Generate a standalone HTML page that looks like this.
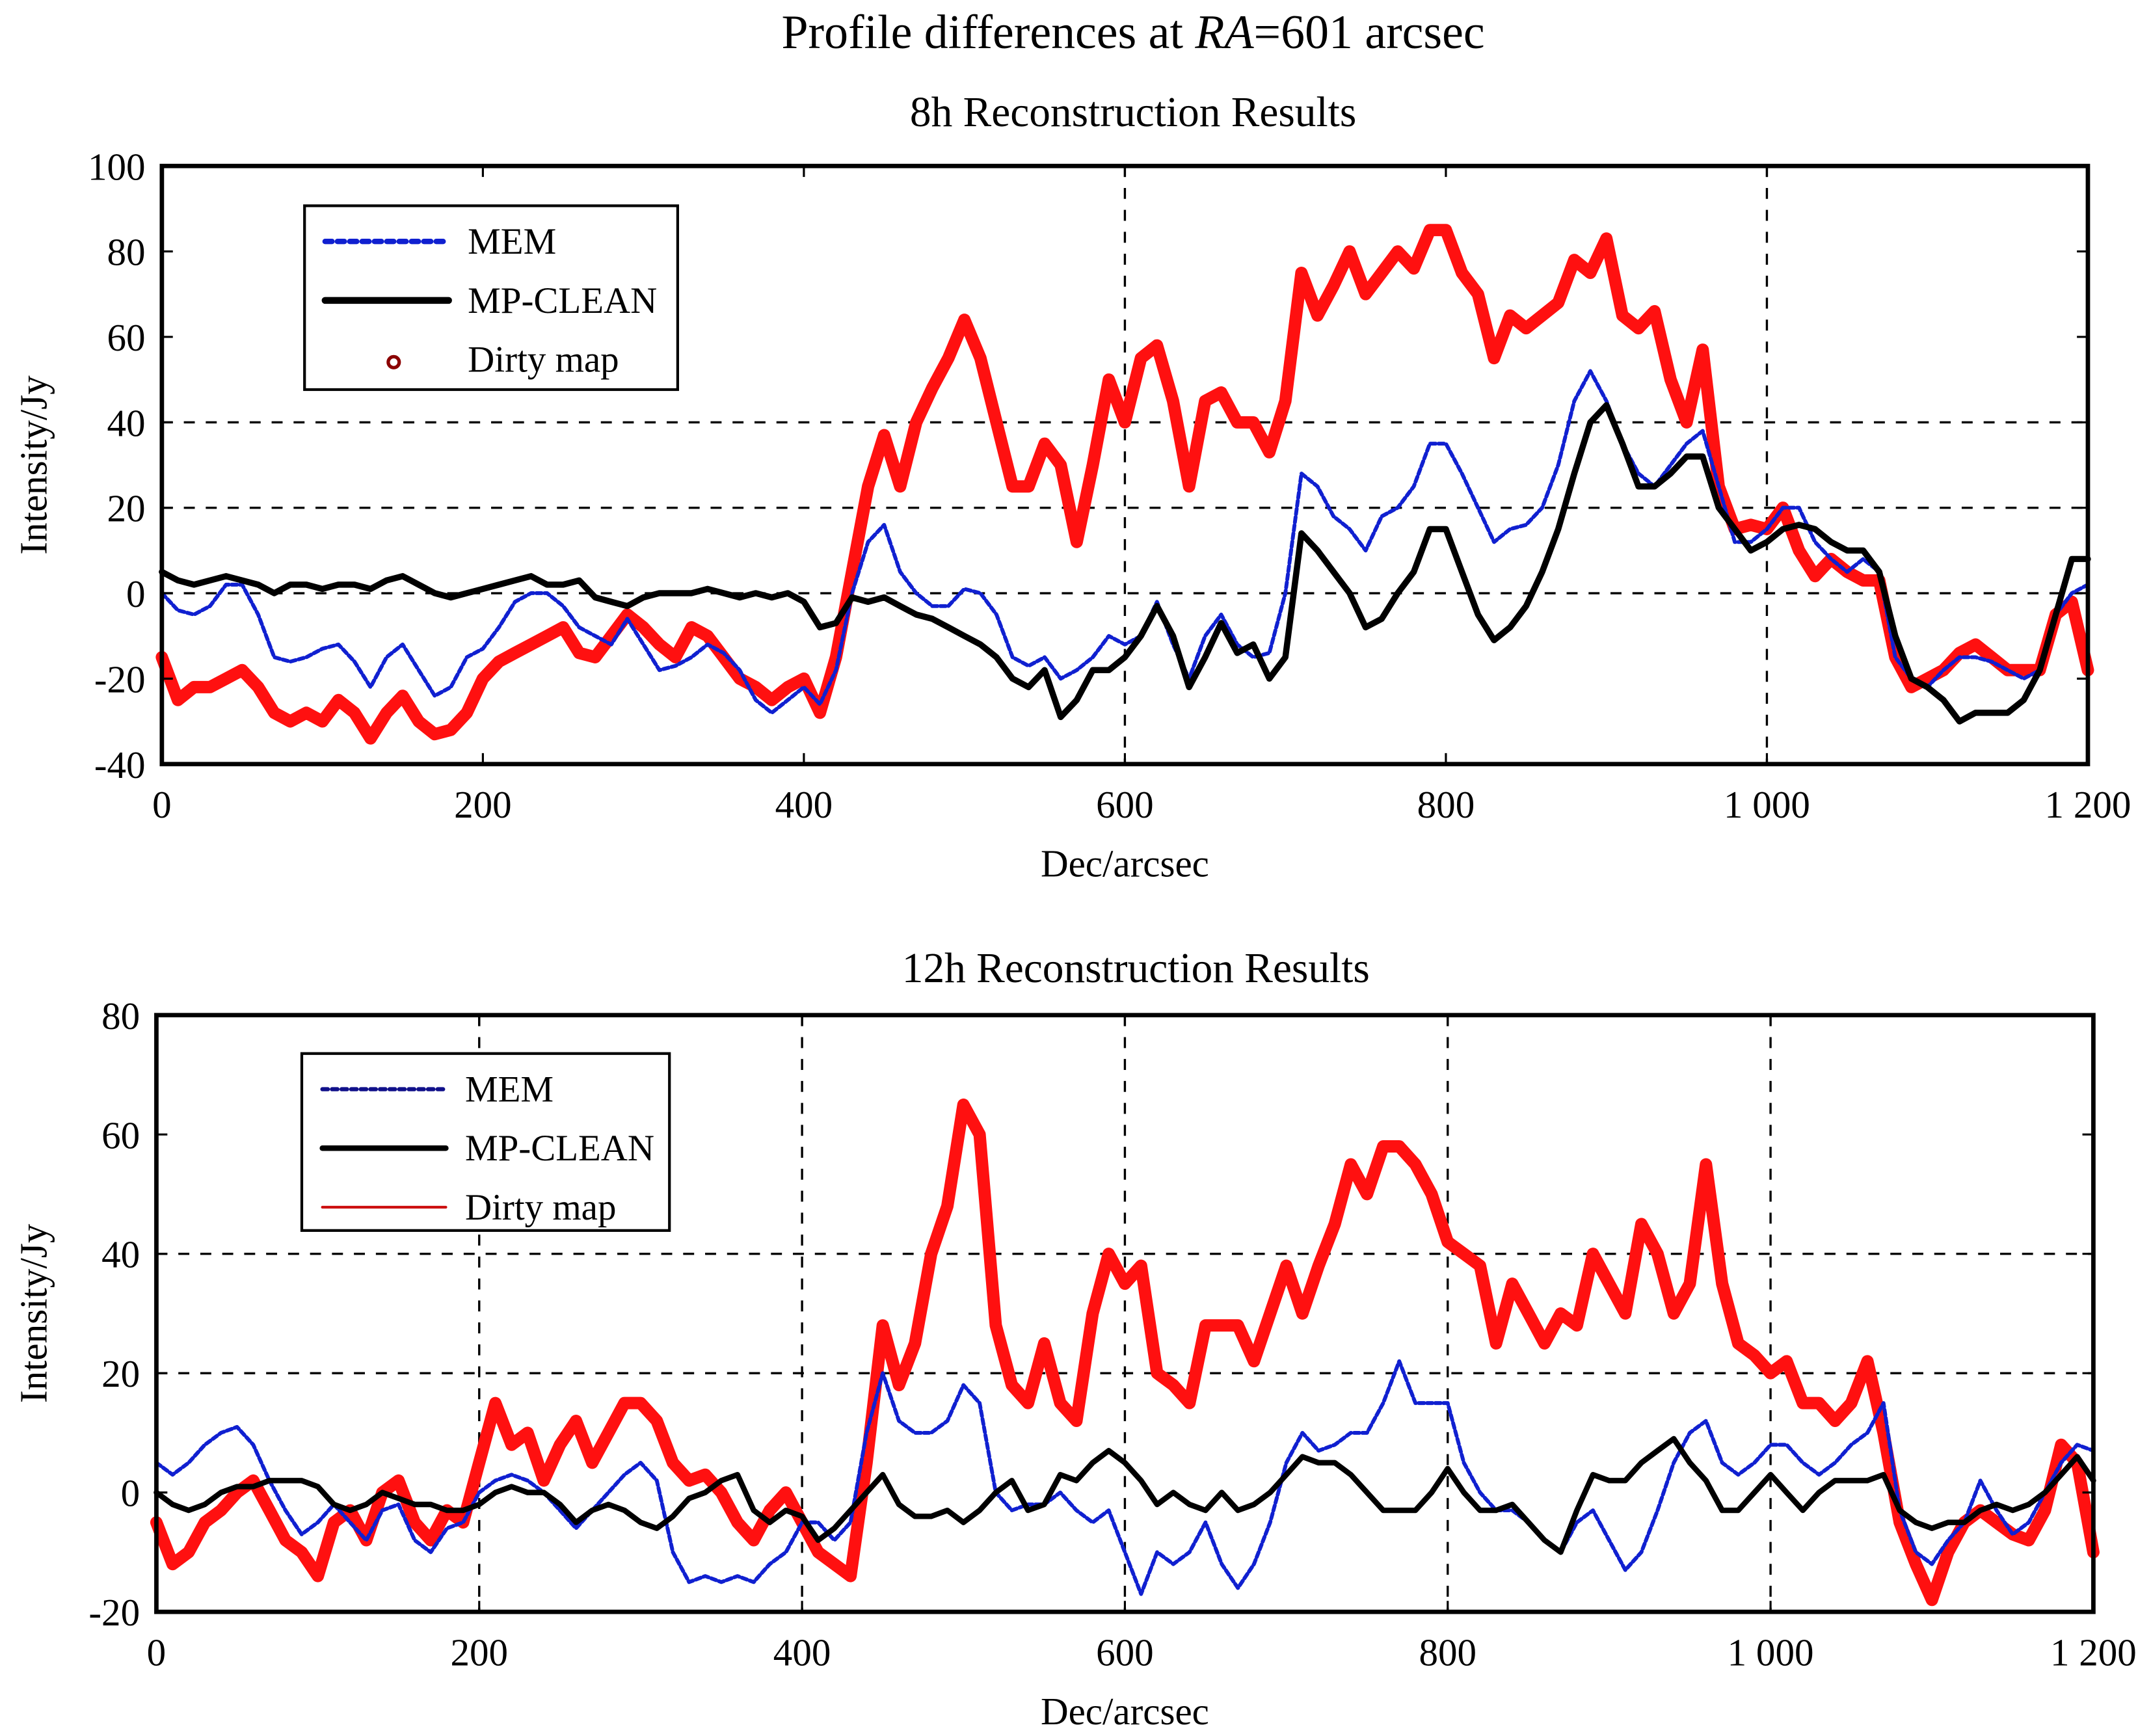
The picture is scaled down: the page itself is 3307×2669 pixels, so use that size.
<!DOCTYPE html>
<html><head><meta charset="utf-8"><style>
html,body{margin:0;padding:0;background:#fff}
svg{display:block}
text{font-family:"Liberation Serif",serif;fill:#000}
</style></head><body>
<svg id="fig" width="3307" height="2669" viewBox="0 0 1568 1265.5" xmlns="http://www.w3.org/2000/svg">
<text x="826" y="35" font-size="35" text-anchor="middle">Profile differences at <tspan font-style="italic">RA</tspan>=601 arcsec</text>
<text x="826" y="92" font-size="31" text-anchor="middle">8h Reconstruction Results</text>
<text x="828" y="716" font-size="31" text-anchor="middle">12h Reconstruction Results</text>
<g id="top"></g>
<g id="bot"></g>
</svg>
<script>
const decs = []; for (let d = 0; d <= 1200; d += 10) decs.push(d);
const xTicks = [0,200,400,600,800,1000,1200];
const xTickLabels = ["0","200","400","600","800","1 000","1 200"];
const topYTicks = [-40,-20,0,20,40,60,80,100];
const botYTicks = [-20,0,20,40,60,80];
const topDirty = [-15,-25,-22,-22,-20,-18,-22,-28,-30,-28,-30,-25,-28,-34,-28,-24,-30,-33,-32,-28,-20,-16,-14,-12,-10,-8,-14,-15,-10,-5,-8,-12,-15,-8,-10,-15,-20,-22,-25,-22,-20,-28,-15,5,25,37,25,40,48,55,64,55,40,25,25,35,30,12,30,50,40,55,58,45,25,45,47,40,40,33,45,75,65,72,80,70,75,80,76,85,85,75,70,55,65,62,65,68,78,75,83,65,62,66,50,40,57,25,15,16,15,20,10,4,8,5,3,3,-15,-22,-20,-18,-14,-12,-15,-18,-18,-18,-5,-2,-18];
const topMEM = [0,-4,-5,-3,2,2,-5,-15,-16,-15,-13,-12,-16,-22,-15,-12,-18,-24,-22,-15,-13,-8,-2,0,0,-3,-8,-10,-12,-6,-12,-18,-17,-15,-12,-14,-18,-25,-28,-25,-22,-26,-18,0,12,16,5,0,-3,-3,1,0,-5,-15,-17,-15,-20,-18,-15,-10,-12,-10,-2,-12,-20,-10,-5,-12,-15,-14,0,28,25,18,15,10,18,20,25,35,35,28,20,12,15,16,20,30,45,52,45,35,28,25,30,35,38,25,12,12,15,20,20,12,8,5,8,5,-15,-20,-22,-18,-15,-15,-16,-18,-20,-18,-5,0,2];
const topClean = [5,3,2,3,4,3,2,0,2,2,1,2,2,1,3,4,2,0,-1,0,1,2,3,4,2,2,3,-1,-2,-3,-1,0,0,0,1,0,-1,0,-1,0,-2,-8,-7,-1,-2,-1,-3,-5,-6,-8,-10,-12,-15,-20,-22,-18,-29,-25,-18,-18,-15,-10,-3,-10,-22,-15,-7,-14,-12,-20,-15,14,10,5,0,-8,-6,0,5,15,15,5,-5,-11,-8,-3,5,15,28,40,44,35,25,25,28,32,32,20,15,10,12,15,16,15,12,10,10,5,-10,-20,-22,-25,-30,-28,-28,-28,-25,-18,-5,8,8];
const botDirty = [-5,-12,-10,-5,-3,0,2,-3,-8,-10,-14,-5,-3,-8,0,2,-5,-8,-3,-5,5,15,8,10,2,8,12,5,10,15,15,12,5,2,3,0,-5,-8,-3,0,-5,-10,-12,-14,5,28,18,25,40,48,65,60,28,18,15,25,15,12,30,40,35,38,20,18,15,28,28,28,22,30,38,30,38,45,55,50,58,58,55,50,42,40,38,25,35,30,25,30,28,40,35,30,45,40,30,35,55,35,25,23,20,22,15,15,12,15,22,10,-5,-12,-18,-10,-5,-3,-5,-7,-8,-3,8,5,-10];
const botMEM = [5,3,5,8,10,11,8,2,-3,-7,-5,-2,-5,-8,-3,-2,-8,-10,-6,-5,0,2,3,2,0,-3,-6,-3,0,3,5,2,-10,-15,-14,-15,-14,-15,-12,-10,-5,-5,-8,-5,10,20,12,10,10,12,18,15,0,-3,-2,-2,0,-3,-5,-3,-10,-17,-10,-12,-10,-5,-12,-16,-12,-5,5,10,7,8,10,10,15,22,15,15,15,5,0,-3,-3,-5,-8,-10,-5,-3,-8,-13,-10,-3,5,10,12,5,3,5,8,8,5,3,5,8,10,15,-3,-10,-12,-8,-5,2,-3,-7,-5,0,5,8,7];
const botClean = [0,-2,-3,-2,0,1,1,2,2,2,1,-2,-3,-2,0,-1,-2,-2,-3,-3,-2,0,1,0,0,-2,-5,-3,-2,-3,-5,-6,-4,-1,0,2,3,-3,-5,-3,-4,-8,-6,-3,0,3,-2,-4,-4,-3,-5,-3,0,2,-3,-2,3,2,5,7,5,2,-2,0,-2,-3,0,-3,-2,0,3,6,5,5,3,0,-3,-3,-3,0,4,0,-3,-3,-2,-5,-8,-10,-3,3,2,2,5,7,9,5,2,-3,-3,0,3,0,-3,0,2,2,2,3,-3,-5,-6,-5,-5,-3,-2,-3,-2,0,3,6,2];

const NS = "http://www.w3.org/2000/svg";
function mk(parent, tag, attrs) {
  const e = document.createElementNS(NS, tag);
  for (const k in attrs) e.setAttribute(k, attrs[k]);
  parent.appendChild(e); return e;
}
function chart(g, box, ymin, ymax, yTicks, hGrid, vGrid, series, legend) {
  const xs = d => box.l + (d / 1200) * (box.r - box.l);
  const ys = v => box.b - (v - ymin) / (ymax - ymin) * (box.b - box.t);
  hGrid.forEach(v => {
    const ln = mk(g, "line", {x1: box.l, x2: box.r, y1: ys(v), y2: ys(v), stroke: "#000", "stroke-width": 1.6, "stroke-dasharray": "8 8"});
    
    
  });
  vGrid.forEach(d => {
    const ln = mk(g, "line", {x1: xs(d), x2: xs(d), y1: box.t, y2: box.b, stroke: "#000", "stroke-width": 1.6, "stroke-dasharray": "8 8"});
    
    
  });
  series.forEach(s => {
    const pts = decs.map((d, i) => xs(d).toFixed(1) + "," + ys(s.vals[i]).toFixed(1)).join(" ");
    const p = mk(g, "polyline", {points: pts, fill: "none", stroke: s.color, "stroke-width": s.w, "stroke-linejoin": "round", "stroke-linecap": "round"});
    if (s.dash) p.setAttribute("stroke-dasharray", s.dash);
    
    
  });
  const fr = mk(g, "rect", {x: box.l, y: box.t, width: box.r - box.l, height: box.b - box.t, fill: "none", stroke: "#000", "stroke-width": 3.2});
  
  
  yTicks.forEach(v => {
    mk(g, "line", {x1: box.l, x2: box.l + 8, y1: ys(v), y2: ys(v), stroke: "#000", "stroke-width": 1.5});
    mk(g, "line", {x1: box.r - 8, x2: box.r, y1: ys(v), y2: ys(v), stroke: "#000", "stroke-width": 1.5});
    const t = mk(g, "text", {x: box.l - 12, y: ys(v) + 10, "font-size": 28, "text-anchor": "end"});
    t.textContent = String(v);
    
    
  });
  xTicks.forEach((d, i) => {
    mk(g, "line", {x1: xs(d), x2: xs(d), y1: box.b - 8, y2: box.b, stroke: "#000", "stroke-width": 1.5});
    mk(g, "line", {x1: xs(d), x2: xs(d), y1: box.t, y2: box.t + 8, stroke: "#000", "stroke-width": 1.5});
    const t = mk(g, "text", {x: xs(d), y: box.b + 39, "font-size": 28, "text-anchor": "middle"});
    t.textContent = xTickLabels[i];
    
    
  });
  const xt = mk(g, "text", {x: (box.l + box.r) / 2, y: box.b + 82, "font-size": 28, "text-anchor": "middle"});
  xt.textContent = "Dec/arcsec";
  
  
  const cy = (box.t + box.b) / 2;
  const yt = mk(g, "text", {x: 34, y: cy, "font-size": 28, "text-anchor": "middle", transform: "rotate(-90 34 " + cy + ")"});
  yt.textContent = "Intensity/Jy";
  
  
  const L = legend;
  const lg = mk(g, "g", {});
  
  
  mk(lg, "rect", {x: L.x, y: L.y, width: L.w, height: L.h, fill: "#fff", stroke: "#000", "stroke-width": 2});
  L.items.forEach((it, i) => {
    const yy = L.y + 26 + i * 43;
    if (it.marker) {
      mk(lg, "circle", {cx: L.x + 65, cy: yy + 2, r: 4, fill: "none", stroke: "#8b0000", "stroke-width": 2.5});
    } else {
      const ln = mk(lg, "line", {x1: L.x + 15, x2: L.x + 105, y1: yy, y2: yy, stroke: it.color, "stroke-width": it.w, "stroke-linecap": "round"});
      if (it.dash) ln.setAttribute("stroke-dasharray", it.dash);
    }
    const t = mk(lg, "text", {x: L.x + 119, y: yy + 9, "font-size": 27});
    t.textContent = it.label;
    
    
  });
}
chart(document.getElementById("top"), {l: 118, r: 1522, t: 121, b: 557}, -40, 100, topYTicks, [0, 20, 40], [600, 1000],
  [{vals: topDirty, color: "#ff1010", w: 9, name: "dirty-map-line-8h"},
   {vals: topMEM, color: "#1020d0", w: 2.8, dash: "4 2", name: "mem-line-8h"},
   {vals: topClean, color: "#000", w: 4.5, name: "mp-clean-line-8h"}],
  {x: 222, y: 150, w: 272, h: 134, items: [
    {label: "MEM", color: "#1020d0", w: 4, dash: "5 4"},
    {label: "MP-CLEAN", color: "#000", w: 5},
    {label: "Dirty map", marker: true}]});
chart(document.getElementById("bot"), {l: 114, r: 1526, t: 740, b: 1175}, -20, 80, botYTicks, [20, 40], [200, 400, 600, 800, 1000],
  [{vals: botDirty, color: "#ff1010", w: 9, name: "dirty-map-line-12h"},
   {vals: botMEM, color: "#1020d0", w: 2.8, dash: "4 2", name: "mem-line-12h"},
   {vals: botClean, color: "#000", w: 4, name: "mp-clean-line-12h"}],
  {x: 220, y: 768, w: 268, h: 129, items: [
    {label: "MEM", color: "#10108a", w: 3, dash: "4 3"},
    {label: "MP-CLEAN", color: "#000", w: 4},
    {label: "Dirty map", color: "#cc1010", w: 2}]});
</script>
</body></html>
